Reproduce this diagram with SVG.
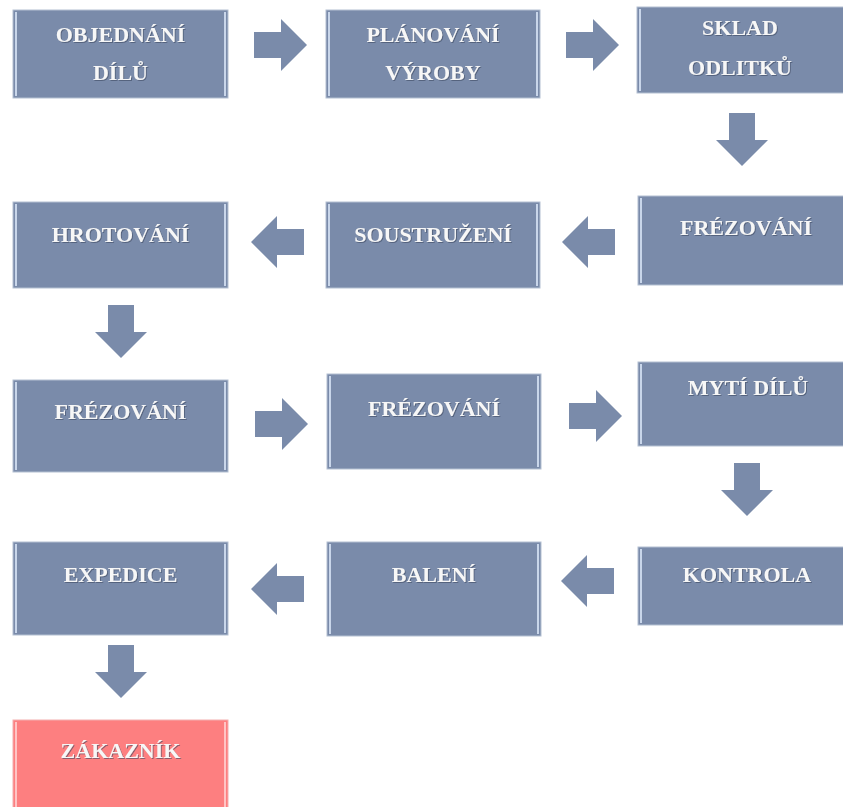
<svg xmlns="http://www.w3.org/2000/svg" width="843" height="807" viewBox="0 0 843 807">
<style>
.box{fill:#7a8baa;stroke:#b4c0d2;stroke-width:1}
.pink{fill:#fd7f80;stroke:#f4b0b0;stroke-width:1}
.edge{stroke:#c9d6ea;stroke-width:2;fill:none}
.edgep{stroke:#ffc4c4;stroke-width:2;fill:none}
.t{font-family:"Liberation Serif","Times New Roman",serif;font-weight:bold;font-size:22px;fill:#f7f7f7;text-anchor:middle;filter:url(#sh)}
.arr{fill:#7a8baa}
</style>
<defs>
<path id="ar" d="M0,-13 H27 V-26 L53,0 L27,26 V13 H0 Z"/>
<filter id="sh" x="-10%" y="-30%" width="120%" height="160%">
<feDropShadow dx="1" dy="1" stdDeviation="0.6" flood-color="#3a4660" flood-opacity="0.6"/>
</filter>
</defs>
<rect width="843" height="807" fill="#ffffff"/>
<g id="connectors" class="arr">
<use href="#ar" transform="translate(254,45)"/>
<use href="#ar" transform="translate(566,45)"/>
<use href="#ar" transform="translate(742,113) rotate(90)"/>
<use href="#ar" transform="translate(615,242) rotate(180)"/>
<use href="#ar" transform="translate(304,242) rotate(180)"/>
<use href="#ar" transform="translate(121,305) rotate(90)"/>
<use href="#ar" transform="translate(255,424)"/>
<use href="#ar" transform="translate(569,416)"/>
<use href="#ar" transform="translate(747,463) rotate(90)"/>
<use href="#ar" transform="translate(614,581) rotate(180)"/>
<use href="#ar" transform="translate(304,589) rotate(180)"/>
<use href="#ar" transform="translate(121,645) rotate(90)"/>
</g>
<g id="n1"><rect class="box" x="13" y="10" width="215" height="88"/><path class="edge" d="M16,12 V96 M225,12 V96"/><text class="t" x="120.5" y="42">OBJEDNÁNÍ</text><text class="t" x="120.5" y="80">DÍLŮ</text></g>
<g id="n2"><rect class="box" x="326" y="10" width="214" height="88"/><path class="edge" d="M329,12 V96 M537,12 V96"/><text class="t" x="433" y="42">PLÁNOVÁNÍ</text><text class="t" x="433" y="80">VÝROBY</text></g>
<g id="n3"><rect class="box" x="637" y="7" width="210" height="86"/><path class="edge" d="M640,9 V91"/><text class="t" x="740" y="35">SKLAD</text><text class="t" x="740" y="75">ODLITKŮ</text></g>
<g id="n4"><rect class="box" x="638" y="196" width="210" height="89"/><path class="edge" d="M641,198 V283"/><text class="t" x="746" y="235">FRÉZOVÁNÍ</text></g>
<g id="n5"><rect class="box" x="326" y="202" width="214" height="86"/><path class="edge" d="M329,204 V286 M537,204 V286"/><text class="t" x="433" y="242">SOUSTRUŽENÍ</text></g>
<g id="n6"><rect class="box" x="13" y="202" width="215" height="86"/><path class="edge" d="M16,204 V286 M225,204 V286"/><text class="t" x="120.5" y="242">HROTOVÁNÍ</text></g>
<g id="n7"><rect class="box" x="13" y="380" width="215" height="92"/><path class="edge" d="M16,382 V470 M225,382 V470"/><text class="t" x="120.5" y="419">FRÉZOVÁNÍ</text></g>
<g id="n8"><rect class="box" x="327" y="374" width="214" height="95"/><path class="edge" d="M330,376 V467 M538,376 V467"/><text class="t" x="434" y="416">FRÉZOVÁNÍ</text></g>
<g id="n9"><rect class="box" x="638" y="362" width="210" height="84"/><path class="edge" d="M641,364 V444"/><text class="t" x="748" y="395">MYTÍ DÍLŮ</text></g>
<g id="n10"><rect class="box" x="638" y="547" width="210" height="78"/><path class="edge" d="M641,549 V623"/><text class="t" x="747" y="582">KONTROLA</text></g>
<g id="n11"><rect class="box" x="327" y="542" width="214" height="94"/><path class="edge" d="M330,544 V634 M538,544 V634"/><text class="t" x="434" y="582">BALENÍ</text></g>
<g id="n12"><rect class="box" x="13" y="542" width="215" height="93"/><path class="edge" d="M16,544 V633 M225,544 V633"/><text class="t" x="120.5" y="582">EXPEDICE</text></g>
<g id="n13"><rect class="pink" x="13" y="720" width="215" height="92"/><path class="edgep" d="M16,722 V807 M225,722 V807"/><text class="t" x="120.5" y="758">ZÁKAZNÍK</text></g>
</svg>
